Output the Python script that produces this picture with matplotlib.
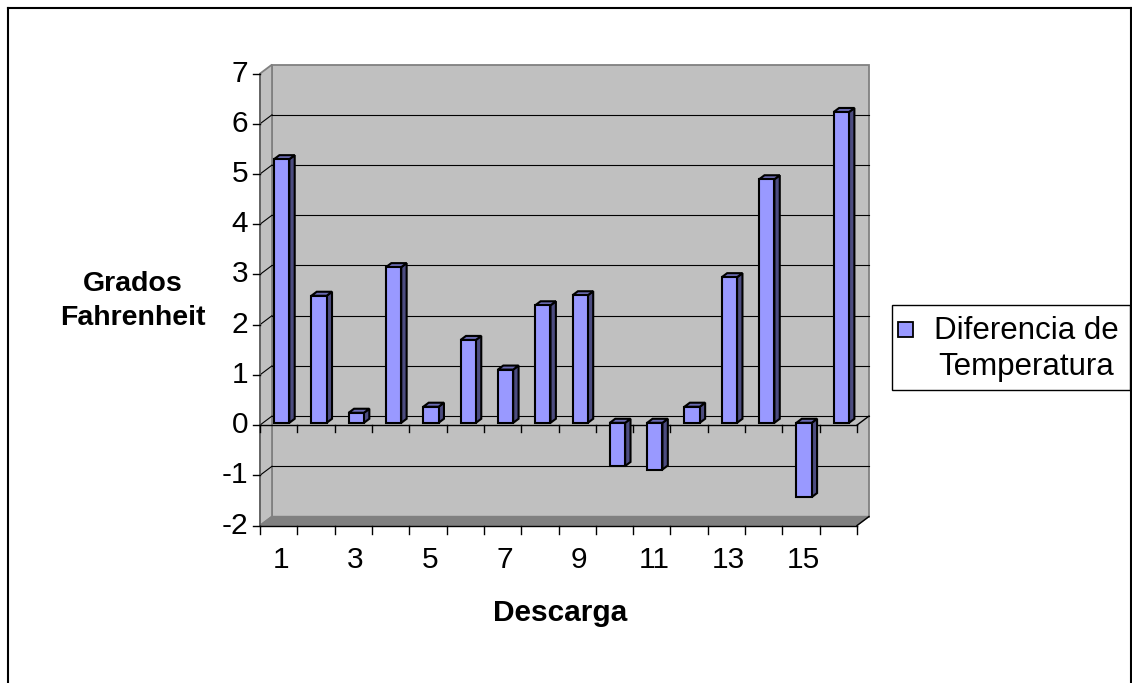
import matplotlib
matplotlib.use("Agg")
import matplotlib.pyplot as plt
from matplotlib.patches import Polygon, Rectangle
from matplotlib.lines import Line2D
from matplotlib.transforms import IdentityTransform, ScaledTranslation

# Temperature difference per discharge
descargas = list(range(1, 17))
diferencias = [5.25, 2.53, 0.2, 3.1, 0.32, 1.65, 1.06, 2.34,
               2.54, -0.86, -0.93, 0.32, 2.9, 4.85, -1.48, 6.19]
y_ticks = list(range(-2, 8))
x_labels = [str(n) if n % 2 else "" for n in descargas]

W, H = 1132, 683
DX, DY = 12, 9             # depth offset of the back wall, in pixels
BAR_D0, BAR_D = 0.25, 0.45  # bar front depth and thickness (fraction of DX/DY)
BAR_W = 0.41

plt.rcParams["font.family"] = ["Liberation Sans", "DejaVu Sans"]

fig = plt.figure(figsize=(W / 100, H / 100), dpi=100)
ax = fig.add_axes([260 / W, 1 - 525.5 / H, 597 / W, 451.9 / H])
ax.set_xlim(0.5, 16.5)
ax.set_ylim(-2, 7)
ax.set_axis_off()

ident = IdentityTransform()


def proj(x, y, d=0.0):
    px, py = ax.transData.transform((x, y))
    return px + d * DX, py + d * DY


def poly(pts, **kw):
    ax.add_patch(Polygon(pts, closed=True, transform=ident, clip_on=False, **kw))


def line(p0, p1, **kw):
    ax.add_line(Line2D([p0[0], p1[0]], [p0[1], p1[1]], transform=ident, clip_on=False, **kw))


x0, x1 = 0.5, 16.5
y0, y1 = -2, 7

# walls and floor
poly([proj(x0, y0, 1), proj(x1, y0, 1), proj(x1, y1, 1), proj(x0, y1, 1)],
     facecolor="#C0C0C0", edgecolor="#808080", lw=1.3, zorder=1)
poly([proj(x0, y0), proj(x0, y0, 1), proj(x0, y1, 1), proj(x0, y1)],
     facecolor="#C0C0C0", edgecolor="#808080", lw=1.3, zorder=1)
poly([proj(x0, y0), proj(x1, y0), proj(x1, y0, 1), proj(x0, y0, 1)],
     facecolor="#808080", edgecolor="#808080", lw=1, zorder=1.5)

# gridlines on the back wall and side wall
for v in y_ticks[1:-1]:
    line(proj(x0, v), proj(x0, v, 1), color="black", lw=0.8, zorder=2)
    line(proj(x0, v, 1), proj(x1, v, 1), color="black", lw=0.8, zorder=2)

# value axis
line(proj(x0, y0), proj(x0, y1), color="#606060", lw=1.2, zorder=3)
for v in y_ticks:
    px, py = proj(x0, v)
    line((px - 7, py), (px, py), color="black", lw=1, zorder=3)
    ax.text(x0, v, str(v), transform=ax.transData + ScaledTranslation(-0.12, 0, fig.dpi_scale_trans),
            ha="right", va="center", fontsize=21.5)

# category axis at zero and at the floor edge
for base, tick_len in [(0, 7), (y0, 8)]:
    line(proj(x0, base), proj(x1, base), color="black", lw=1, zorder=3)
    line(proj(x1, base), proj(x1, base, 1), color="black", lw=1, zorder=3)
    for k in range(len(descargas) + 1):
        px, py = proj(x0 + k, base)
        line((px, py), (px, py - tick_len), color="black", lw=1, zorder=3)

for n, lab in zip(descargas, x_labels):
    ax.text(n, y0, lab, transform=ax.transData + ScaledTranslation(0.02, -0.35, fig.dpi_scale_trans),
            ha="center", va="center", fontsize=21.5)

# bars: front faces through ax.bar, side and top faces from the same values
shift = ax.transData + ScaledTranslation(BAR_D0 * DX / 100, BAR_D0 * DY / 100, fig.dpi_scale_trans)
ax.bar(descargas, diferencias, width=BAR_W, color="#9999FF", edgecolor="black",
       linewidth=1.5, transform=shift, clip_on=False, zorder=5)
da, db = BAR_D0, BAR_D0 + BAR_D
for n, v in zip(descargas, diferencias):
    left, right = n - BAR_W / 2, n + BAR_W / 2
    lo, hi = min(v, 0), max(v, 0)
    poly([proj(right, lo, da), proj(right, lo, db), proj(right, hi, db), proj(right, hi, da)],
         facecolor="#4C4C80", edgecolor="black", lw=1.5, zorder=4)
    poly([proj(left, hi, da), proj(right, hi, da), proj(right, hi, db), proj(left, hi, db)],
         facecolor="#6B6BB3", edgecolor="black", lw=1.5, zorder=4)

# axis titles
fig.text(133 / W, 1 - 301 / H, "Grados\nFahrenheit", ha="center", va="center",
         fontsize=20.5, fontweight="bold", linespacing=1.42)
fig.text(560 / W, 1 - 613 / H, "Descarga", ha="center", va="center",
         fontsize=21.5, fontweight="bold")

# legend
fig.add_artist(Rectangle((892, H - 390), 238, 85, transform=ident, facecolor="white",
                         edgecolor="black", lw=1))
fig.add_artist(Rectangle((898, H - 337), 15, 15, transform=ident, facecolor="#9999FF",
                         edgecolor="black", lw=1.3))
fig.text(1026 / W, 1 - 349 / H, "Diferencia de\nTemperatura", ha="center", va="center",
         fontsize=22.5, linespacing=1.25, multialignment="center")

# outer frame
line((8, 0), (8, H - 8), color="black", lw=1.5)
line((8, H - 8), (1130.5, H - 8), color="black", lw=1.5)
line((1130.5, H - 8), (1130.5, 0), color="black", lw=1.5)

fig.savefig("out.png", dpi=100)
